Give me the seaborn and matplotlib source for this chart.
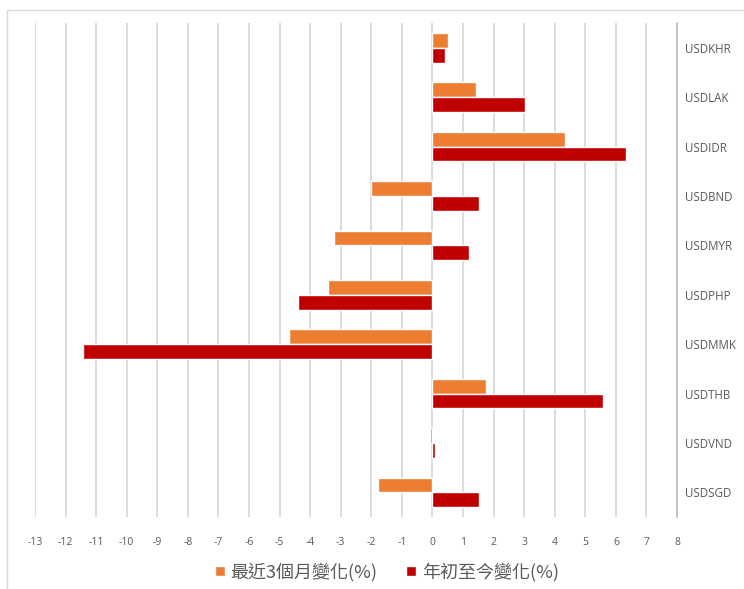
import pandas as pd
import matplotlib.pyplot as plt
import seaborn as sns
from matplotlib.patches import Rectangle

# Data (percent change)
currencies = ['USDKHR', 'USDLAK', 'USDIDR', 'USDBND', 'USDMYR',
              'USDPHP', 'USDMMK', 'USDTHB', 'USDVND', 'USDSGD']
last_3m = [0.5, 1.42, 4.33, -2.0, -3.23, -3.41, -4.7, 1.76, -0.08, -1.78]
ytd = [0.4, 3.03, 6.33, 1.52, 1.2, -4.41, -11.42, 5.59, 0.08, 1.52]
series_names = ['最近3個月變化(%)', '年初至今變化(%)']
xticks = list(range(-13, 9))

df = pd.DataFrame({
    'currency': currencies * 2,
    'value': last_3m + ytd,
    'series': [series_names[0]] * len(currencies) + [series_names[1]] * len(currencies),
})

sns.set_style('white')
plt.rcParams['font.family'] = ['Open Sans', 'DejaVu Sans']

fig = plt.figure(figsize=(7.44, 5.89), dpi=100)
ax = fig.add_axes([0.047, 0.122, 0.863, 0.839])

# light chart border like the spreadsheet frame (top and left edges visible)
fig.patches.append(Rectangle((7 / 744, -0.1), 2, 1.1 - 10 / 589, transform=fig.transFigure,
                             fill=False, edgecolor='#d9d9d9', linewidth=1))

sns.barplot(data=df, x='value', y='currency', hue='series', orient='h',
            palette=['#ED7D31', '#C00000'], width=0.6, saturation=1,
            errorbar=None, ax=ax, zorder=3)

ax.set_xlim(-13, 8)
ax.set_xticks(xticks)
ax.set_xticklabels([str(t) for t in xticks], fontsize=7.5, color='#595959')
ax.grid(axis='x', color='#d9d9d9', linewidth=1.3, zorder=0)
ax.set_axisbelow(True)
ax.tick_params(axis='x', length=0, pad=14)

ax.yaxis.tick_right()
ax.tick_params(axis='y', length=0, pad=6, labelsize=8.3, labelcolor='#595959')
ax.set_xlabel('')
ax.set_ylabel('')

for s in ['top', 'left', 'bottom']:
    ax.spines[s].set_visible(False)
ax.spines['right'].set_color('#bfbfbf')
ax.spines['right'].set_linewidth(1.2)

handles, labels = ax.get_legend_handles_labels()
ax.get_legend().remove()
fig.legend(handles, labels, loc='center', bbox_to_anchor=(0.52, 0.029), ncol=2,
           frameon=False, handlelength=0.55, handleheight=0.55, handletextpad=0.3,
           columnspacing=1.6,
           prop={'family': ['Noto Sans CJK TC', 'DejaVu Sans'], 'size': 13},
           labelcolor='#595959')

plt.savefig('out.png', dpi=100, facecolor='white')
